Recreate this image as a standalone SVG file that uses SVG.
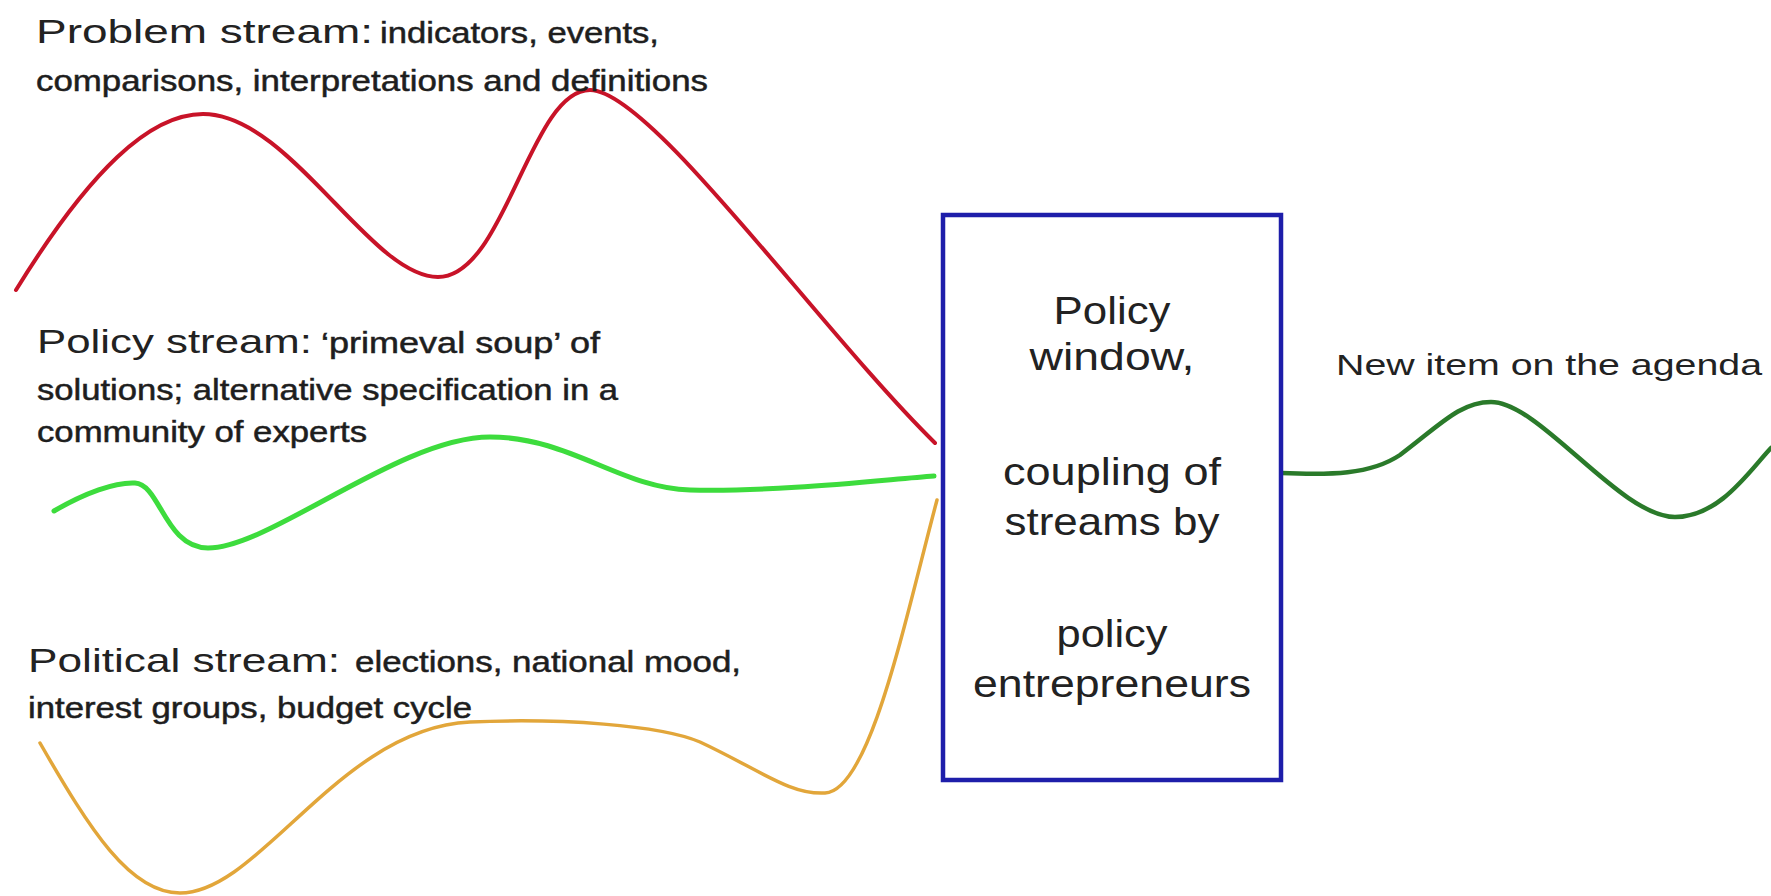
<svg xmlns="http://www.w3.org/2000/svg" width="1771" height="896" viewBox="0 0 1771 896">
<style>
.big{font-family:"Liberation Sans",Arial,sans-serif;font-size:33px;fill:#222}
.sm{font-family:"Liberation Sans",Arial,sans-serif;font-size:29px;fill:#1e1e1e;stroke:#1e1e1e;stroke-width:0.5px}
.box{font-family:"Liberation Sans",Arial,sans-serif;font-size:39px;fill:#222;text-anchor:middle}
.lbl{font-family:"Liberation Sans",Arial,sans-serif;font-size:29px;fill:#222}
.s{fill:none;stroke-linecap:round;stroke-linejoin:round}
</style>
<rect width="1771" height="896" fill="#ffffff"/>
<g id="connectors">
<path class="s" stroke="#c81328" stroke-width="4" d="M16,290 C90,170 150,114 203,114 C290,114 370,277 438,277 C505,277 530,90 590,90 C650,90 820,330 935,443"/>
<path class="s" stroke="#3ddc3d" stroke-width="5" d="M54,511 C85,493 115,482 135,483 C160,484 165,548 208,548 C270,548 400,437 490,437 C570,437 620,488 690,490 C780,492 880,480 934,476"/>
<path class="s" stroke="#e2a63a" stroke-width="3.5" d="M40,743 C90,830 130,893 180,893 C260,893 340,728 470,722 C560,718 660,725 700,742 C760,770 790,795 825,793 C870,791 905,620 937,500"/>
<path class="s" stroke="#2a7a2a" stroke-width="4.5" d="M1281,473 C1330,475 1370,475 1400,455 C1440,425 1460,402 1491,402 C1540,402 1620,517 1675,517 C1720,517 1750,470 1771,448"/>
</g>
<g id="problem">
<text class="big" x="36" y="43" textLength="337" lengthAdjust="spacingAndGlyphs">Problem stream:</text>
<text class="sm" x="380" y="43" textLength="279" lengthAdjust="spacingAndGlyphs">indicators, events,</text>
<text class="sm" x="36" y="91" textLength="672" lengthAdjust="spacingAndGlyphs">comparisons, interpretations and definitions</text>
</g>
<g id="policy">
<text class="big" x="37" y="353" textLength="275" lengthAdjust="spacingAndGlyphs">Policy stream:</text>
<text class="sm" x="321" y="353" textLength="279" lengthAdjust="spacingAndGlyphs">‘primeval soup’ of</text>
<text class="sm" x="37" y="400" textLength="581" lengthAdjust="spacingAndGlyphs">solutions; alternative specification in a</text>
<text class="sm" x="37" y="442" textLength="330" lengthAdjust="spacingAndGlyphs">community of experts</text>
</g>
<g id="political">
<text class="big" x="28" y="672" textLength="312" lengthAdjust="spacingAndGlyphs">Political stream:</text>
<text class="sm" x="355" y="672" textLength="386" lengthAdjust="spacingAndGlyphs">elections, national mood,</text>
<text class="sm" x="28" y="718" textLength="444" lengthAdjust="spacingAndGlyphs">interest groups, budget cycle</text>
</g>
<g id="window">
<rect x="943" y="215" width="338" height="565" fill="#ffffff" stroke="#1e1eaa" stroke-width="4.5"/>
<text class="box" x="1112" y="324" textLength="117" lengthAdjust="spacingAndGlyphs">Policy</text>
<text class="box" x="1112" y="370" textLength="165" lengthAdjust="spacingAndGlyphs">window,</text>
<text class="box" x="1112" y="485" textLength="218" lengthAdjust="spacingAndGlyphs">coupling of</text>
<text class="box" x="1112" y="535" textLength="215" lengthAdjust="spacingAndGlyphs">streams by</text>
<text class="box" x="1112" y="647" textLength="111" lengthAdjust="spacingAndGlyphs">policy</text>
<text class="box" x="1112" y="697" textLength="278" lengthAdjust="spacingAndGlyphs">entrepreneurs</text>
</g>
<g id="agenda">
<text class="lbl" x="1336" y="375" textLength="426" lengthAdjust="spacingAndGlyphs">New item on the agenda</text>
</g>
</svg>
